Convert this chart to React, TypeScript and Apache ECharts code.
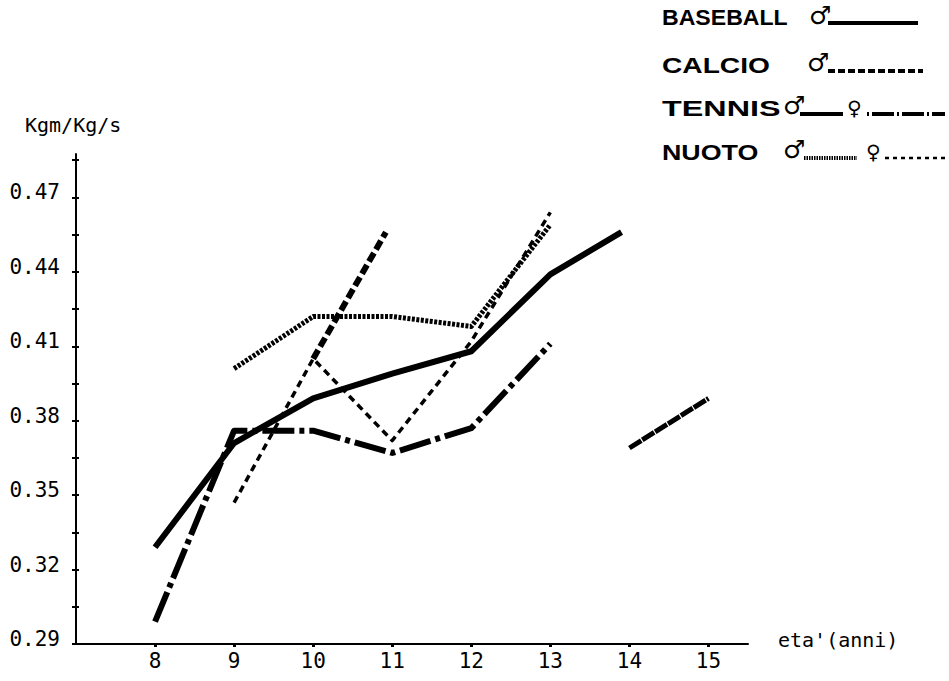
import React, { useEffect, useRef } from "react";
import * as echarts from "echarts";

// ---- data ----
const xTicks = [8, 9, 10, 11, 12, 13, 14, 15];
const yLabelTicks = [0.29, 0.32, 0.35, 0.38, 0.41, 0.44, 0.47];
const yAllTicks = [0.29, 0.305, 0.32, 0.335, 0.35, 0.365, 0.38, 0.395, 0.41, 0.425, 0.44, 0.455, 0.47, 0.485];

const baseballMaleAge = [8, 9, 10, 11, 12, 13, 13.9];
const baseballMale = [0.329, 0.371, 0.389, 0.399, 0.408, 0.439, 0.456];
const calcioMaleAge = [10, 10.92];
const calcioMale = [0.405, 0.456];
const tennisFemaleAge = [8, 9, 10, 11, 12, 13];
const tennisFemale = [0.299, 0.376, 0.376, 0.367, 0.377, 0.411];
const tennisMaleAge = [14, 15];
const tennisMale = [0.369, 0.389];
const nuotoMaleAge = [9, 10, 11, 12, 13];
const nuotoMale = [0.401, 0.422, 0.422, 0.418, 0.459];
const nuotoFemaleAge = [9, 10, 11, 12, 13];
const nuotoFemale = [0.347, 0.405, 0.372, 0.412, 0.464];

const MONO = "'DejaVu Sans Mono', monospace";
const BOLD = "'Liberation Sans', Arial, sans-serif";
const SYM = "'DejaVu Sans', sans-serif";

function mk(name: string, xs: number[], ys: number[], ls: any) {
  return {
    type: "line",
    name,
    data: xs.map((x, i) => [x, ys[i]]),
    showSymbol: false,
    symbol: "none",
    silent: true,
    lineStyle: { color: "#000", join: "round", ...ls },
  };
}

function txt(text: string, x: number, y: number, font: string, size: number, weight = "normal", sx = 1) {
  return {
    type: "text",
    x,
    y,
    scaleX: sx,
    silent: true,
    style: {
      text,
      fill: "#000",
      fontFamily: font,
      fontSize: size,
      fontWeight: weight,
      textAlign: "left",
      textVerticalAlign: "middle",
      verticalAlign: "middle",
    },
  };
}

function seg(x1: number, x2: number, y: number, width: number, dash?: number[]) {
  return {
    type: "line",
    silent: true,
    shape: { x1, y1: y, x2, y2: y },
    style: { stroke: "#000", lineWidth: width, lineDash: dash || null },
  };
}

export default function App() {
  const ref = useRef<HTMLDivElement>(null);
  useEffect(() => {
    if (!ref.current) return;
    const chart = echarts.init(ref.current, null, { renderer: "svg" });
    const option: any = {
      animation: false,
      backgroundColor: "#fff",
      grid: { left: 76, right: 201, top: 154, bottom: 37, containLabel: false },
      xAxis: [
        {
          type: "value",
          min: 7,
          max: 15.5,
          axisLine: { show: true, lineStyle: { color: "#000", width: 2 } },
          axisTick: { show: true, customValues: xTicks, length: 3, lineStyle: { color: "#000", width: 3 } },
          axisLabel: {
            customValues: xTicks,
            color: "#000",
            fontFamily: MONO,
            fontSize: 21,
            margin: 6,
          },
          splitLine: { show: false },
        },
      ],
      yAxis: [
        {
          type: "value",
          min: 0.29,
          max: 0.4875,
          axisLine: { show: true, lineStyle: { color: "#000", width: 2 } },
          axisTick: { show: true, customValues: yAllTicks, length: 4, lineStyle: { color: "#000", width: 2 } },
          axisLabel: {
            customValues: yLabelTicks,
            formatter: (v: number) => v.toFixed(2),
            color: "#000",
            fontFamily: MONO,
            fontSize: 21,
            margin: 16,
            verticalAlign: "bottom",
            lineHeight: 10,
          },
          splitLine: { show: false },
        },
        {
          type: "value",
          min: 0.29,
          max: 0.4875,
          position: "left",
          axisLine: { show: false },
          axisTick: { show: true, inside: true, customValues: yAllTicks, length: 3, lineStyle: { color: "#000", width: 2 } },
          axisLabel: { show: false },
          splitLine: { show: false },
        },
      ],
      series: [
        mk("Baseball ♂", baseballMaleAge, baseballMale, { width: 6, type: "solid" }),
        mk("Calcio ♂", calcioMaleAge, calcioMale, { width: 6, type: [10, 4] }),
        mk("Tennis ♀", tennisFemaleAge, tennisFemale, { width: 6, type: [32, 5, 5, 5] }),
        mk("Tennis ♂", tennisMaleAge, tennisMale, { width: 5, type: [14, 1.2] }),
        mk("Nuoto ♂", nuotoMaleAge, nuotoMale, { width: 5, type: [3, 1.5] }),
        mk("Nuoto ♀", nuotoFemaleAge, nuotoFemale, { width: 3.5, type: [7, 5] }),
      ],
      graphic: [
        txt("Kgm/Kg/s", 25, 125, MONO, 20),
        txt("eta'(anni)", 778, 640, MONO, 20),
        // legend
        txt("BASEBALL", 662, 18, BOLD, 22, "bold", 1.05),
        txt("♂", 809, 15, SYM, 25, "bold"),
        seg(828, 918, 23, 4),
        txt("CALCIO", 662, 65, BOLD, 22, "bold", 1.28),
        txt("♂", 807, 62, SYM, 25, "bold"),
        seg(828, 923, 71, 4, [7, 3]),
        txt("TENNIS", 662, 108, BOLD, 22, "bold", 1.47),
        txt("♂", 783, 105, SYM, 25, "bold"),
        seg(800, 843, 114, 4),
        txt("♀", 847, 108, SYM, 20, "bold"),
        seg(867, 945, 114, 4, [2, 3, 22, 3]),
        txt("NUOTO", 662, 152, BOLD, 22, "bold", 1.22),
        txt("♂", 783, 149, SYM, 25, "bold"),
        seg(804, 857, 158, 4, [1.5, 1]),
        txt("♀", 866, 152, SYM, 20, "bold"),
        seg(885, 945, 158, 2.5, [4, 4]),
      ],
    };
    chart.setOption(option);
    return () => chart.dispose();
  }, []);
  return (
    <div
      ref={ref}
      style={{ position: "fixed", left: 0, top: 0, width: 949, height: 681, background: "#fff" }}
    />
  );
}
